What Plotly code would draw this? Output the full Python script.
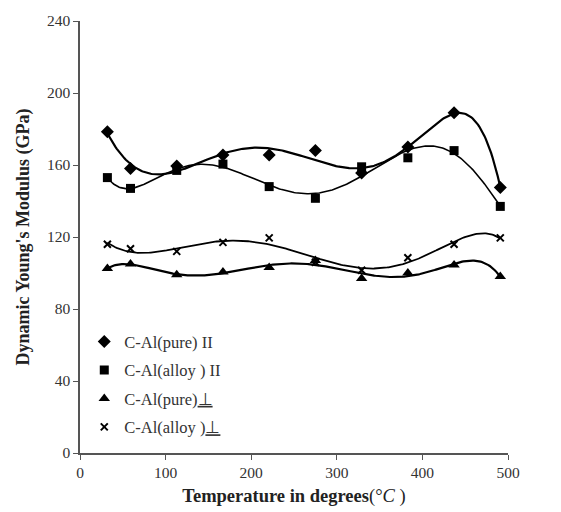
import numpy as np
import plotly.graph_objects as go

# Temperature positions as placed along the x axis (°C)
temps = [32, 59, 113, 167, 221, 275, 329, 383, 437, 491]

# Dynamic Young's modulus (GPa)
pure_par = [178.5, 158, 159.5, 165.5, 165.5, 168, 155.5, 170, 189, 147.5]
alloy_par = [153, 147, 157, 160.5, 148, 141.5, 159, 164, 168, 137]
pure_perp = [102.5, 105, 99, 100.5, 103, 107, 97, 100, 104.5, 98]
alloy_perp = [116, 113.5, 112, 117, 119.5, 106, 101.5, 108.5, 116, 119.5]

x_ticks = [0, 100, 200, 300, 400, 500]
y_ticks = [0, 40, 80, 120, 160, 200, 240]

series = [
    ("C-Al(pure) II", pure_par, "diamond", 10, 2.2),
    ("C-Al(alloy ) II", alloy_par, "square", 9, 1.6),
    ("C-Al(pure)<u>⊥</u>", pure_perp, "triangle-up", 10, 2.2),
    ("C-Al(alloy )<u>⊥</u>", alloy_perp, "x-thin-open", 7, 1.8),
]

serif = "Liberation Serif, Times New Roman, serif"
fig = go.Figure()

x_dense = np.linspace(min(temps), max(temps), 300)
for i, (name, vals, sym, size, lw) in enumerate(series):
    # polynomial trendline through each series
    coef = np.polyfit(temps, vals, 6)
    fig.add_trace(go.Scatter(
        x=x_dense, y=np.polyval(coef, x_dense), mode="lines",
        line=dict(color="black", width=lw), showlegend=False, hoverinfo="skip",
    ))
for i, (name, vals, sym, size, lw) in enumerate(series):
    marker = dict(symbol=sym, size=size, color="black")
    if sym.startswith("x-thin"):
        marker["line"] = dict(color="black", width=2)
    fig.add_trace(go.Scatter(
        x=temps, y=vals, mode="markers", name=name, marker=marker,
        legendgroup=f"g{i}",
    ))

fig.update_layout(
    width=561, height=512,
    margin=dict(l=80, r=53, t=21, b=59),
    paper_bgcolor="white", plot_bgcolor="white",
    font=dict(family=serif, size=14, color="#333333"),
    legend=dict(
        x=0.01, y=0.298, xanchor="left", yanchor="top",
        bgcolor="rgba(0,0,0,0)", font=dict(size=16.5, color="#333333"),
        tracegroupgap=4, traceorder="grouped",
    ),
    xaxis=dict(
        range=[0, 500], tickvals=x_ticks, showgrid=False, zeroline=False,
        showline=True, linecolor="#555555", linewidth=1.5, automargin=False,
        ticks="outside", ticklen=5, tickcolor="#555555",
        tickfont=dict(size=15.5, color="#333333"),
        title=dict(text="<b>Temperature in degrees</b>(°<i>C</i> )",
                   font=dict(size=18.5, color="#222222"), standoff=9),
    ),
    yaxis=dict(
        range=[0, 240], tickvals=y_ticks, showgrid=False, zeroline=False,
        showline=True, linecolor="#555555", linewidth=1.5, automargin=False,
        ticks="outside", ticklen=5, tickcolor="#555555",
        tickfont=dict(size=15.5, color="#333333"),
        title=dict(text="<b>Dynamic Young's Modulus (GPa)</b>",
                   font=dict(size=18, color="#222222"), standoff=13),
    ),
)

fig.write_html("out.html")
